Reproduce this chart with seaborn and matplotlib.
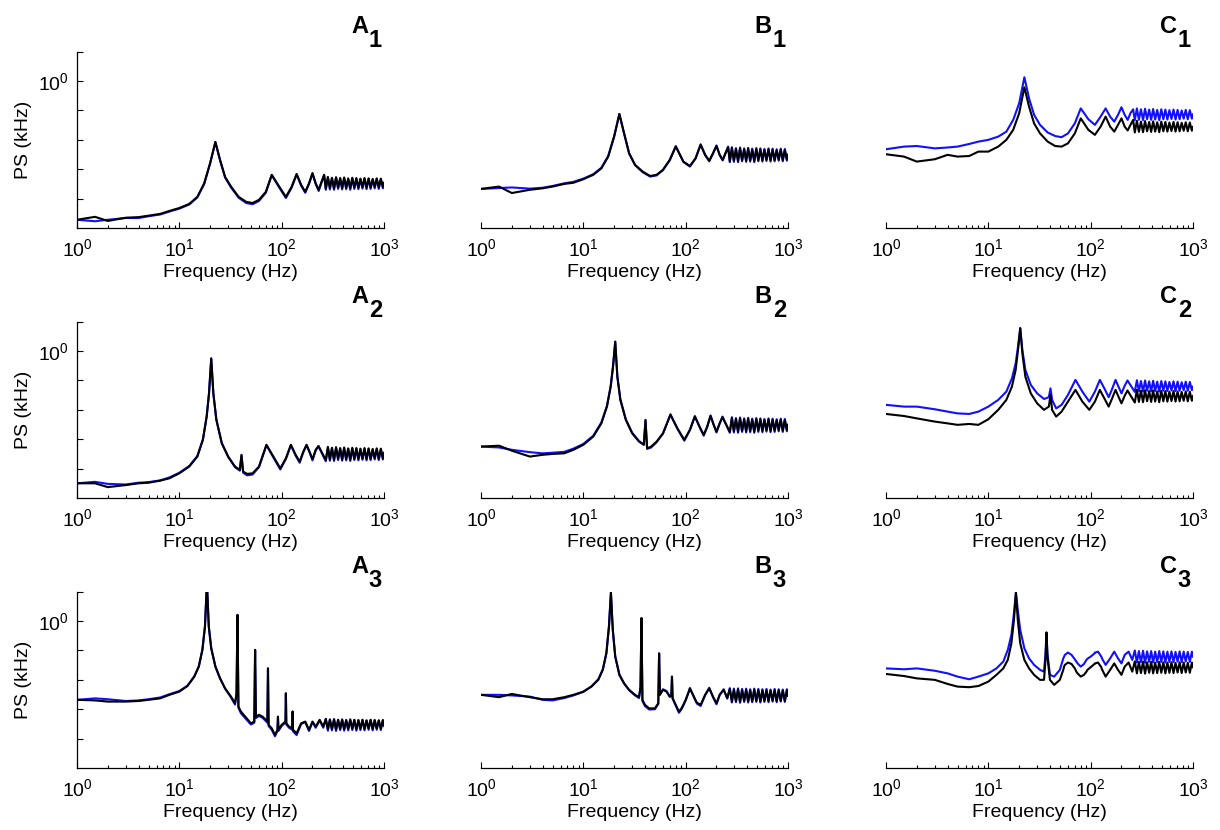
import numpy as np
import matplotlib
matplotlib.use("Agg")
import matplotlib.pyplot as plt
import matplotlib.ticker as mticker
import seaborn as sns

sns.set_theme(style="ticks", rc={"text.color": "black", "axes.labelcolor": "black",
                                 "xtick.color": "black", "ytick.color": "black"})
plt.rcParams["font.family"] = ["Liberation Sans", "DejaVu Sans"]
plt.rcParams["mathtext.fontset"] = "custom"
plt.rcParams["mathtext.rm"] = "Liberation Sans"
plt.rcParams["mathtext.it"] = "Liberation Sans:italic"
plt.rcParams["mathtext.bf"] = "Liberation Sans:bold"

# ── Frequency grids (Hz) ──────────────────────────────
freq_row1 = [1, 1.5, 2, 3, 4, 5, 6.5, 8, 10, 12.5, 15, 17.5, 20, 22.5, 25, 28, 32, 38, 45, 52,
             60, 70, 80, 95, 110, 125, 140, 155, 170, 185, 200, 215, 230, 245, 260]
freq_row2 = [1, 1.5, 2, 3, 4, 5, 6.5, 8, 10, 12.5, 15, 17, 18.5, 19.5, 20.5, 21.5, 23, 26, 30, 35,
             39, 40.5, 42, 46, 52, 60, 71, 83, 97, 110, 123, 137, 150, 162, 175, 188, 200, 215, 229]
freq_row3 = [1, 1.5, 2, 3, 4, 5, 6.5, 8, 10, 12, 14, 15.5, 16.8, 17.8, 18.6, 19.4, 20.5, 22.5, 25, 28,
             32, 35, 36.2, 37, 37.8, 40, 44, 50, 54, 55, 56, 60, 65, 70, 72.5, 73.5, 74.5, 80, 86, 91,
             92, 93, 100, 109, 110, 111, 118, 127, 128, 129, 140, 155, 170, 185, 200, 215, 235, 255]
# dense high-frequency part, shared by all panels
freq_band = [270, 283, 296, 310, 325, 340, 356, 373, 390, 408, 427, 447, 468, 490, 513, 537, 562,
             588, 616, 645, 675, 707, 740, 775, 811, 849, 889, 931, 975, 1000]

# ── Power spectra, log10(PS) ──────────────────────────
a1_black = [-4.72, -4.62, -4.76, -4.65, -4.63, -4.58, -4.52, -4.42, -4.32, -4.18, -3.94, -3.48, -2.79,
            -2.07, -2.68, -3.26, -3.59, -3.94, -4.11, -4.15, -4.04, -3.77, -3.19, -3.60, -3.94, -3.60,
            -3.16, -3.53, -3.77, -3.48, -3.13, -3.48, -3.70, -3.43, -3.19]
a1_black_band = [-3.66, -3.26, -3.64, -3.29, -3.65, -3.27, -3.62, -3.30, -3.64, -3.28, -3.63, -3.31,
                 -3.65, -3.29, -3.62, -3.30, -3.63, -3.32, -3.61, -3.30, -3.63, -3.31, -3.62, -3.33,
                 -3.60, -3.31, -3.62, -3.32, -3.60, -3.45]
a1_blue = [-4.72, -4.77, -4.72, -4.66, -4.66, -4.60, -4.54, -4.44, -4.34, -4.20, -3.96, -3.50, -2.80,
           -2.08, -2.70, -3.28, -3.62, -3.97, -4.15, -4.19, -4.08, -3.80, -3.20, -3.63, -3.98, -3.63,
           -3.18, -3.56, -3.80, -3.50, -3.15, -3.50, -3.74, -3.46, -3.20]
a1_blue_band = [-3.70, -3.28, -3.69, -3.31, -3.70, -3.29, -3.67, -3.32, -3.69, -3.30, -3.68, -3.33,
                -3.70, -3.31, -3.67, -3.32, -3.68, -3.34, -3.66, -3.32, -3.68, -3.33, -3.67, -3.35,
                -3.65, -3.33, -3.67, -3.34, -3.65, -3.50]
b1_black = [-3.67, -3.59, -3.81, -3.70, -3.65, -3.59, -3.50, -3.46, -3.34, -3.19, -2.97, -2.57, -1.89,
            -1.12, -1.78, -2.46, -2.85, -3.08, -3.23, -3.19, -3.02, -2.68, -2.23, -2.74, -2.89, -2.63,
            -2.17, -2.51, -2.71, -2.46, -2.21, -2.51, -2.68, -2.46, -2.25]
b1_black_band = [-2.73, -2.28, -2.71, -2.31, -2.72, -2.29, -2.69, -2.32, -2.71, -2.30, -2.70, -2.33,
                 -2.72, -2.31, -2.69, -2.32, -2.70, -2.34, -2.68, -2.32, -2.70, -2.33, -2.69, -2.35,
                 -2.67, -2.33, -2.69, -2.34, -2.67, -2.50]
b1_blue = [-3.67, -3.64, -3.62, -3.66, -3.63, -3.57, -3.48, -3.43, -3.32, -3.17, -2.95, -2.55, -1.88,
           -1.12, -1.77, -2.45, -2.86, -3.10, -3.25, -3.21, -3.03, -2.69, -2.21, -2.75, -2.91, -2.63,
           -2.15, -2.52, -2.73, -2.46, -2.19, -2.52, -2.70, -2.45, -2.23]
b1_blue_band = [-2.76, -2.25, -2.75, -2.28, -2.76, -2.26, -2.73, -2.29, -2.75, -2.27, -2.74, -2.30,
                -2.76, -2.28, -2.73, -2.29, -2.74, -2.31, -2.72, -2.29, -2.74, -2.30, -2.73, -2.32,
                -2.71, -2.30, -2.73, -2.31, -2.71, -2.50]
c1_black = [-2.49, -2.57, -2.74, -2.66, -2.51, -2.57, -2.55, -2.40, -2.40, -2.23, -2.00, -1.66, -1.10,
            -0.21, -0.87, -1.44, -1.78, -2.06, -2.21, -2.23, -2.12, -1.78, -1.27, -1.66, -1.83, -1.55,
            -1.21, -1.55, -1.72, -1.49, -1.27, -1.55, -1.68, -1.49, -1.32]
c1_black_band = [-1.75, -1.35, -1.73, -1.38, -1.74, -1.36, -1.71, -1.39, -1.73, -1.37, -1.72, -1.40,
                 -1.74, -1.38, -1.71, -1.39, -1.72, -1.41, -1.70, -1.39, -1.72, -1.40, -1.71, -1.42,
                 -1.69, -1.40, -1.71, -1.41, -1.69, -1.55]
c1_blue = [-2.32, -2.23, -2.21, -2.29, -2.26, -2.23, -2.14, -2.06, -2.00, -1.89, -1.72, -1.32, -0.76,
           0.13, -0.59, -1.15, -1.49, -1.75, -1.87, -1.91, -1.78, -1.44, -0.93, -1.30, -1.49, -1.21,
           -0.93, -1.21, -1.38, -1.15, -0.89, -1.15, -1.32, -1.09, -0.96]
c1_blue_band = [-1.33, -0.93, -1.32, -0.96, -1.33, -0.94, -1.30, -0.97, -1.32, -0.95, -1.31, -0.98,
                -1.33, -0.96, -1.30, -0.97, -1.31, -0.99, -1.29, -0.97, -1.31, -0.98, -1.30, -1.00,
                -1.28, -0.98, -1.30, -0.99, -1.28, -1.12]

a2_black = [-4.50, -4.50, -4.63, -4.56, -4.50, -4.48, -4.41, -4.33, -4.16, -3.93, -3.59, -3.02, -2.23,
            -1.44, -0.25, -1.44, -2.34, -3.14, -3.59, -3.93, -4.04, -3.53, -4.10, -4.18, -4.16, -3.93,
            -3.19, -3.59, -3.99, -3.65, -3.19, -3.53, -3.76, -3.44, -3.19, -3.44, -3.68, -3.36, -3.23]
a2_black_band = [-3.71, -3.26, -3.69, -3.29, -3.70, -3.27, -3.67, -3.30, -3.69, -3.28, -3.68, -3.31,
                 -3.70, -3.29, -3.67, -3.30, -3.68, -3.32, -3.66, -3.30, -3.68, -3.31, -3.67, -3.33,
                 -3.65, -3.31, -3.67, -3.32, -3.65, -3.45]
a2_blue = [-4.50, -4.45, -4.52, -4.54, -4.48, -4.46, -4.40, -4.30, -4.14, -3.91, -3.57, -3.00, -2.22,
           -1.44, -0.25, -1.44, -2.33, -3.13, -3.60, -3.95, -4.07, -3.55, -4.14, -4.23, -4.20, -3.95,
           -3.20, -3.62, -4.03, -3.67, -3.20, -3.56, -3.80, -3.46, -3.20, -3.46, -3.72, -3.38, -3.24]
a2_blue_band = [-3.75, -3.28, -3.73, -3.31, -3.74, -3.29, -3.71, -3.32, -3.73, -3.30, -3.72, -3.33,
                -3.74, -3.31, -3.71, -3.32, -3.72, -3.34, -3.70, -3.32, -3.72, -3.33, -3.71, -3.35,
                -3.69, -3.33, -3.71, -3.34, -3.69, -3.48]
b2_black = [-3.25, -3.22, -3.39, -3.59, -3.53, -3.50, -3.48, -3.36, -3.19, -2.91, -2.46, -1.89, -1.21,
            -0.53, 0.32, -0.87, -1.66, -2.34, -2.80, -3.08, -3.19, -2.34, -3.31, -3.25, -3.08, -2.80,
            -2.17, -2.63, -3.02, -2.68, -2.23, -2.58, -2.85, -2.58, -2.21, -2.51, -2.74, -2.46, -2.25]
b2_black_band = [-2.75, -2.28, -2.73, -2.31, -2.74, -2.29, -2.71, -2.32, -2.73, -2.30, -2.72, -2.33,
                 -2.74, -2.31, -2.71, -2.32, -2.72, -2.34, -2.70, -2.32, -2.72, -2.33, -2.71, -2.35,
                 -2.69, -2.33, -2.71, -2.34, -2.69, -2.50]
b2_blue = [-3.25, -3.28, -3.36, -3.44, -3.48, -3.46, -3.43, -3.32, -3.16, -2.88, -2.43, -1.87, -1.20,
           -0.52, 0.32, -0.86, -1.64, -2.32, -2.78, -3.06, -3.18, -2.36, -3.33, -3.28, -3.10, -2.81,
           -2.15, -2.64, -3.05, -2.69, -2.21, -2.59, -2.88, -2.59, -2.19, -2.52, -2.77, -2.46, -2.23]
b2_blue_band = [-2.78, -2.25, -2.77, -2.28, -2.78, -2.26, -2.75, -2.29, -2.77, -2.27, -2.76, -2.30,
                -2.78, -2.28, -2.75, -2.29, -2.76, -2.31, -2.74, -2.29, -2.76, -2.30, -2.75, -2.32,
                -2.73, -2.30, -2.75, -2.31, -2.73, -2.50]
c2_black = [-2.14, -2.21, -2.29, -2.40, -2.46, -2.51, -2.48, -2.51, -2.32, -2.00, -1.66, -1.21, -0.64,
            0.04, 0.78, -0.07, -0.87, -1.44, -1.78, -2.00, -1.89, -1.50, -2.00, -2.23, -2.06, -1.72,
            -1.32, -1.72, -2.00, -1.72, -1.32, -1.63, -1.89, -1.61, -1.32, -1.57, -1.78, -1.52, -1.34]
c2_black_band = [-1.75, -1.32, -1.73, -1.35, -1.74, -1.33, -1.71, -1.36, -1.73, -1.34, -1.72, -1.37,
                 -1.74, -1.35, -1.71, -1.36, -1.72, -1.38, -1.70, -1.36, -1.72, -1.37, -1.71, -1.39,
                 -1.69, -1.37, -1.71, -1.38, -1.69, -1.52]
c2_blue = [-1.83, -1.89, -1.89, -1.98, -2.06, -2.12, -2.14, -2.06, -1.89, -1.66, -1.38, -0.93, -0.42,
           0.15, 0.78, 0.04, -0.64, -1.15, -1.44, -1.63, -1.57, -1.27, -1.66, -1.95, -1.83, -1.49,
           -0.98, -1.38, -1.72, -1.38, -0.98, -1.29, -1.57, -1.29, -0.98, -1.23, -1.44, -1.18, -1.00]
c2_blue_band = [-1.39, -0.99, -1.37, -1.02, -1.38, -1.00, -1.35, -1.03, -1.37, -1.01, -1.36, -1.04,
                -1.38, -1.02, -1.35, -1.03, -1.36, -1.05, -1.34, -1.03, -1.36, -1.04, -1.35, -1.06,
                -1.33, -1.04, -1.35, -1.05, -1.33, -1.20]

a3_black = [-2.68, -2.70, -2.74, -2.74, -2.72, -2.68, -2.63, -2.51, -2.40, -2.21, -1.89, -1.55, -0.98,
            -0.19, 1.30, -0.19, -0.93, -1.55, -1.95, -2.29, -2.57, -2.80, -2.46, 0.21, -2.91, -3.08,
            -3.25, -3.48, -3.42, -0.98, -3.25, -3.19, -3.25, -3.36, -3.42, -1.61, -3.53, -3.65, -3.87,
            -3.70, -3.25, -3.70, -3.53, -3.42, -2.46, -3.48, -3.59, -3.65, -3.08, -3.70, -3.82, -3.48,
            -3.42, -3.70, -3.42, -3.59, -3.36, -3.59]
a3_black_band = [-3.33, -3.68, -3.35, -3.67, -3.34, -3.69, -3.36, -3.66, -3.35, -3.68, -3.37, -3.67,
                 -3.35, -3.66, -3.36, -3.68, -3.37, -3.66, -3.36, -3.67, -3.38, -3.65, -3.36, -3.67,
                 -3.37, -3.65, -3.38, -3.66, -3.37, -3.55]
a3_blue = [-2.68, -2.63, -2.66, -2.72, -2.70, -2.66, -2.60, -2.49, -2.38, -2.20, -1.88, -1.54, -0.97,
           -0.18, 1.30, -0.18, -0.92, -1.54, -1.95, -2.30, -2.60, -2.84, -2.50, 0.21, -2.95, -3.14,
           -3.30, -3.52, -3.46, -0.98, -3.30, -3.23, -3.29, -3.40, -3.46, -1.61, -3.57, -3.70, -3.92,
           -3.74, -3.27, -3.74, -3.57, -3.45, -2.46, -3.52, -3.63, -3.70, -3.08, -3.75, -3.88, -3.50,
           -3.44, -3.74, -3.44, -3.63, -3.38, -3.63]
a3_blue_band = [-3.33, -3.73, -3.35, -3.72, -3.34, -3.74, -3.36, -3.71, -3.35, -3.73, -3.37, -3.72,
                -3.35, -3.71, -3.36, -3.73, -3.37, -3.71, -3.36, -3.72, -3.38, -3.70, -3.36, -3.72,
                -3.37, -3.70, -3.38, -3.71, -3.37, -3.58]
b3_black = [-2.51, -2.59, -2.48, -2.59, -2.66, -2.66, -2.59, -2.51, -2.40, -2.23, -2.00, -1.66, -1.10,
            -0.19, 0.97, -0.30, -1.21, -1.83, -2.12, -2.34, -2.51, -2.59, -2.23, 0.10, -2.68, -2.85,
            -2.97, -2.97, -2.80, -1.10, -2.51, -2.34, -2.40, -2.57, -2.51, -1.89, -2.62, -2.85, -3.08,
            -2.97, -2.93, -2.91, -2.68, -2.34, -2.29, -2.32, -2.51, -2.74, -2.76, -2.78, -2.85, -2.51,
            -2.29, -2.57, -2.80, -2.51, -2.34, -2.62]
b3_black_band = [-2.31, -2.74, -2.33, -2.73, -2.32, -2.75, -2.34, -2.72, -2.33, -2.74, -2.35, -2.73,
                 -2.33, -2.72, -2.34, -2.74, -2.35, -2.72, -2.34, -2.73, -2.36, -2.71, -2.34, -2.73,
                 -2.35, -2.71, -2.36, -2.72, -2.35, -2.55]
b3_blue = [-2.51, -2.51, -2.53, -2.57, -2.68, -2.70, -2.62, -2.53, -2.41, -2.22, -1.98, -1.64, -1.08,
           -0.18, 0.97, -0.29, -1.20, -1.82, -2.12, -2.35, -2.53, -2.62, -2.26, 0.10, -2.72, -2.89,
           -3.01, -3.00, -2.82, -1.10, -2.50, -2.32, -2.38, -2.58, -2.52, -1.89, -2.64, -2.88, -3.12,
           -3.00, -2.96, -2.94, -2.70, -2.33, -2.28, -2.31, -2.52, -2.77, -2.79, -2.81, -2.89, -2.52,
           -2.27, -2.59, -2.83, -2.51, -2.32, -2.64]
b3_blue_band = [-2.28, -2.77, -2.30, -2.76, -2.29, -2.78, -2.31, -2.75, -2.30, -2.77, -2.32, -2.76,
                -2.30, -2.75, -2.31, -2.77, -2.32, -2.75, -2.31, -2.76, -2.33, -2.74, -2.31, -2.76,
                -2.32, -2.74, -2.33, -2.75, -2.32, -2.55]
c3_black = [-1.80, -1.87, -1.95, -2.00, -2.14, -2.23, -2.25, -2.21, -2.06, -1.83, -1.61, -1.32, -0.76,
            0.04, 0.97, 0.04, -0.76, -1.32, -1.61, -1.83, -2.00, -2.00, -1.32, -0.39, -1.21, -2.00,
            -2.17, -2.00, -1.66, -1.55, -1.49, -1.41, -1.46, -1.61, -1.72, -1.76, -1.78, -1.89, -1.83,
            -1.72, -1.69, -1.66, -1.57, -1.46, -1.44, -1.44, -1.41, -1.57, -1.61, -1.64, -1.89, -1.66,
            -1.44, -1.66, -1.83, -1.55, -1.41, -1.72]
c3_black_band = [-1.37, -1.78, -1.39, -1.77, -1.38, -1.79, -1.40, -1.76, -1.39, -1.78, -1.41, -1.77,
                 -1.39, -1.76, -1.40, -1.78, -1.41, -1.76, -1.40, -1.77, -1.42, -1.75, -1.40, -1.77,
                 -1.41, -1.75, -1.42, -1.76, -1.41, -1.58]
c3_blue = [-1.61, -1.64, -1.61, -1.69, -1.78, -1.89, -1.98, -1.89, -1.78, -1.61, -1.38, -0.98, -0.47,
           0.27, 0.97, 0.38, -0.30, -0.93, -1.27, -1.49, -1.66, -1.72, -1.10, -0.39, -1.10, -1.83,
           -1.89, -1.66, -1.27, -1.21, -1.15, -1.07, -1.15, -1.30, -1.38, -1.41, -1.44, -1.55, -1.46,
           -1.32, -1.30, -1.28, -1.21, -1.10, -1.07, -1.07, -1.04, -1.21, -1.23, -1.27, -1.49, -1.27,
           -1.04, -1.27, -1.44, -1.15, -1.04, -1.32]
c3_blue_band = [-1.00, -1.41, -1.02, -1.40, -1.01, -1.42, -1.03, -1.39, -1.02, -1.41, -1.04, -1.40,
                -1.02, -1.39, -1.03, -1.41, -1.04, -1.39, -1.03, -1.40, -1.05, -1.38, -1.03, -1.40,
                -1.04, -1.38, -1.05, -1.39, -1.04, -1.22]

row_freqs = [freq_row1, freq_row2, freq_row3]
panel_data = [
    [(a1_blue + a1_blue_band, a1_black + a1_black_band),
     (b1_blue + b1_blue_band, b1_black + b1_black_band),
     (c1_blue + c1_blue_band, c1_black + c1_black_band)],
    [(a2_blue + a2_blue_band, a2_black + a2_black_band),
     (b2_blue + b2_blue_band, b2_black + b2_black_band),
     (c2_blue + c2_blue_band, c2_black + c2_black_band)],
    [(a3_blue + a3_blue_band, a3_black + a3_black_band),
     (b3_blue + b3_blue_band, b3_black + b3_black_band),
     (c3_blue + c3_blue_band, c3_black + c3_black_band)],
]
col_letters = ["A", "B", "C"]
x_ticks = [1, 10, 100, 1000]
y_ticks = [1e-4, 1e-3, 1e-2, 1e-1, 1, 10]
y_ticklabels = ["", "", "", "", r"$10^{0}$", ""]

# ── Layout (pixels) ───────────────────────────────────
W, H = 1220, 830
col_left = [77, 481, 886]
col_width = 307
row_top = [51.7, 321.7, 591.7]
row_height = 176.3

fig = plt.figure(figsize=(W / 100, H / 100), dpi=100)

for r in range(3):
    for c in range(3):
        left, top = col_left[c], row_top[r]
        ax = fig.add_axes([left / W, 1 - (top + row_height) / H, col_width / W, row_height / H])
        ax.set_xscale("log")
        ax.set_yscale("log")
        blue, black = panel_data[r][c]
        freq = np.array(row_freqs[r] + freq_band)
        sns.lineplot(x=freq, y=10.0 ** np.array(blue), ax=ax, color="#1010ff",
                     linewidth=1.5, estimator=None, sort=False)
        sns.lineplot(x=freq, y=10.0 ** np.array(black), ax=ax, color="black",
                     linewidth=1.5, estimator=None, sort=False)

        ax.set_xlim(1, 1000)
        ax.set_ylim(1e-5, 1e1)
        ax.set_xticks(x_ticks)
        ax.xaxis.set_major_formatter(mticker.LogFormatterMathtext())
        ax.xaxis.set_minor_locator(mticker.LogLocator(base=10, subs=np.arange(2, 10)))
        ax.xaxis.set_minor_formatter(mticker.NullFormatter())
        ax.set_yticks(y_ticks)
        ax.set_yticklabels(y_ticklabels)
        ax.yaxis.set_minor_locator(mticker.NullLocator())

        ax.tick_params(which="both", direction="in", top=False, right=False,
                       width=0.8, colors="black", labelsize=14)
        ax.tick_params(which="major", length=4)
        ax.tick_params(which="minor", length=2.2)
        ax.tick_params(axis="x", pad=7)
        ax.tick_params(axis="y", pad=6)
        for s in ["top", "right"]:
            ax.spines[s].set_visible(False)
        for s in ["left", "bottom"]:
            ax.spines[s].set_color("black")
            ax.spines[s].set_linewidth(0.9)
        if c > 0:
            ax.spines["left"].set_visible(False)
            ax.tick_params(axis="y", which="both", left=False, labelleft=False)
            ax.set_ylabel("")
        else:
            ax.set_ylabel("PS (kHz)", fontsize=14, labelpad=4)
        ax.set_xlabel("Frequency (Hz)", fontsize=14, labelpad=3)
        ax.set_facecolor("white")

        right = left + col_width
        fig.text((right - 2) / W, 1 - (top - 4.5) / H, str(r + 1), ha="right", va="baseline",
                 fontsize=17, fontweight="bold")
        fig.text((right - 16) / W, 1 - (top - 19) / H, col_letters[c], ha="right", va="baseline",
                 fontsize=17, fontweight="bold")

fig.savefig("out.png", dpi=100, facecolor="white")
